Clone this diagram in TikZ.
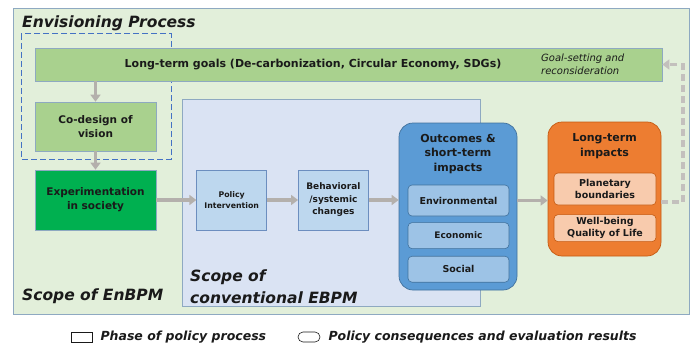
\documentclass[tikz,border=0pt]{standalone}
\usepackage{fontspec}
\setmainfont{DejaVu Sans}
\usepackage{tikz}
\usetikzlibrary{positioning}
\usetikzlibrary{arrows.meta}

\definecolor{envfill}{HTML}{E2EFDA}
\definecolor{scopeline}{HTML}{8EA9C1}
\definecolor{ebpmfill}{HTML}{DAE3F3}
\definecolor{goalgreen}{HTML}{A9D18E}
\definecolor{expgreen}{HTML}{00B050}
\definecolor{phasefill}{HTML}{BDD7EE}
\definecolor{phaseline}{HTML}{6C8EBF}
\definecolor{outblue}{HTML}{5B9BD5}
\definecolor{outline}{HTML}{41719C}
\definecolor{subblue}{HTML}{9DC3E6}
\definecolor{ltiorange}{HTML}{ED7D31}
\definecolor{ltiline}{HTML}{C55A11}
\definecolor{suborange}{HTML}{F8CBAD}
\definecolor{dashblue}{HTML}{4472C4}
\definecolor{arrowgray}{HTML}{B4B0AC}
\definecolor{ink}{HTML}{1A1A1A}

\begin{document}
\begin{tikzpicture}
        [x=1pt,y=-1pt,
        phase/.style={draw=phaseline, line width=0.7pt, align=center, text=ink,
          inner sep=2pt, font=\bfseries\fontsize{10.5}{14}\selectfont},
        result/.style={draw=outline, line width=0.7pt, rounded corners=14pt},
        item/.style={draw=outline, fill=subblue, line width=0.6pt, rounded corners=4pt,
          align=center, text=ink, minimum width=101pt, inner sep=1pt,
          font=\bfseries\fontsize{9.5}{12.5}\selectfont},
        scopetitle/.style={text=ink, inner sep=0pt, align=left,
          font=\bfseries\itshape\fontsize{15.5}{22}\selectfont},
        flow/.style={-{Triangle[length=7pt,width=10pt]}, line width=3.5pt, draw=arrowgray},
        keytext/.style={text=ink, inner sep=0pt, font=\bfseries\itshape\fontsize{12.5}{14}\selectfont}]
      \useasboundingbox (0,0) rectangle (695,345);
      % scopes
      \draw[draw=scopeline, fill=envfill, line width=1pt] (13,9) rectangle (689,314);
      \draw[draw=scopeline, fill=ebpmfill, line width=0.8pt] (182,99) rectangle (480,306);
      \draw[draw=dashblue, line width=1pt, dash pattern=on 6pt off 3pt] (21,34) rectangle (171,159);
      \node[scopetitle, anchor=base west] (envtitle) at (22,28) {Envisioning Process};
      \node[scopetitle, anchor=base west] (enbpm) at (22,300) {Scope of EnBPM};
      \node[scopetitle, anchor=south west] (ebpm) at (190,304) {Scope of\\conventional EBPM};
      % goals and envisioning
      \node[phase, draw=scopeline, fill=goalgreen, minimum width=627pt, minimum height=33pt] (goals) at (348.5,64.5) {};
      \node[text=ink, font=\bfseries\fontsize{11}{14}\selectfont] (goalstext) at (313,64.5)
        {Long-term goals (De-carbonization, Circular Economy, SDGs)};
      \node[text=ink, align=left, anchor=west, inner sep=0pt,
        font=\itshape\fontsize{10}{13}\selectfont] (reconsider) at (541,64.5) {Goal-setting and\\reconsideration};
      \node[phase, draw=scopeline, fill=goalgreen, minimum width=121pt, minimum height=49pt] (codesign) at (95.5,126.5) {Co-design of\\vision};
      \node[phase, draw=scopeline, fill=expgreen, minimum width=121pt, minimum height=60pt] (exp) at (95.5,200) {Experimentation\\in society};
      % policy process
      \node[phase, fill=phasefill, minimum width=70pt, minimum height=60pt,
        font=\bfseries\fontsize{7.8}{11}\selectfont] (pol) [right=40pt of exp] {Policy\\Intervention};
      \node[phase, fill=phasefill, minimum width=70pt, minimum height=60pt,
        font=\bfseries\fontsize{9}{12.5}\selectfont] (beh) [right=31pt of pol] {Behavioral\\/systemic\\changes};
      % outcomes
      \node[result, fill=outblue, minimum width=118pt, minimum height=167pt] (out) at (458,206.5) {};
      \node[text=ink, align=center, font=\bfseries\fontsize{11}{14.5}\selectfont] (outtitle) at (458,154) {Outcomes \&\\short-term\\impacts};
      \node[item, minimum height=31pt] (envi) at (458.5,200.5) {Environmental};
      \node[item, minimum height=26pt, font=\bfseries\fontsize{9}{11}\selectfont] (eco) [below=6pt of envi] {Economic};
      \node[item, minimum height=26pt] (soc) [below=7pt of eco] {Social};
      % long-term impacts
      \node[result, draw=ltiline, fill=ltiorange, minimum width=113pt, minimum height=134pt] (lti) at (604.5,189) {};
      \node[text=ink, align=center, font=\bfseries\fontsize{11}{14.5}\selectfont] (ltititle) at (604.5,146) {Long-term\\impacts};
      \node[item, draw=ltiline, fill=suborange, minimum width=102pt, minimum height=32pt] (pb) at (605,189) {Planetary\\boundaries};
      \node[item, draw=ltiline, fill=suborange, minimum width=102pt, minimum height=27pt] (wb) [below=9pt of pb] {Well-being\\Quality of Life};
      % connectors
      \draw[flow] (codesign.north |- goals.south) -- (codesign.north);
      \draw[flow] (codesign.south) -- (exp.north);
      \draw[flow] (exp.east) -- (pol.west);
      \draw[flow] (pol.east) -- (beh.west);
      \draw[flow] (beh.east) -- (beh.east -| out.west);
      \draw[flow] (out.east |- envi) -- (lti.west |- envi);
      \coordinate (turn) at (683,202);
      \draw[flow, draw=arrowgray!80, dash pattern=on 7pt off 4pt] (lti.east |- turn) -- (turn) |- (goals.east);
      % key
      \node[draw=ink, line width=0.6pt, minimum width=21pt, minimum height=10pt, inner sep=0pt] (keyphase) at (81.5,337) {};
      \node[keytext, anchor=west] (keyphasetext) [right=8pt of keyphase] {Phase of policy process};
      \node[draw=ink, line width=0.6pt, rounded corners=5pt, minimum width=22pt, minimum height=10pt, inner sep=0pt] (keyresult) at (309,337) {};
      \node[keytext, anchor=west] (keyresulttext) [right=8pt of keyresult] {Policy consequences and evaluation results};
      \end{tikzpicture}
\end{document}
